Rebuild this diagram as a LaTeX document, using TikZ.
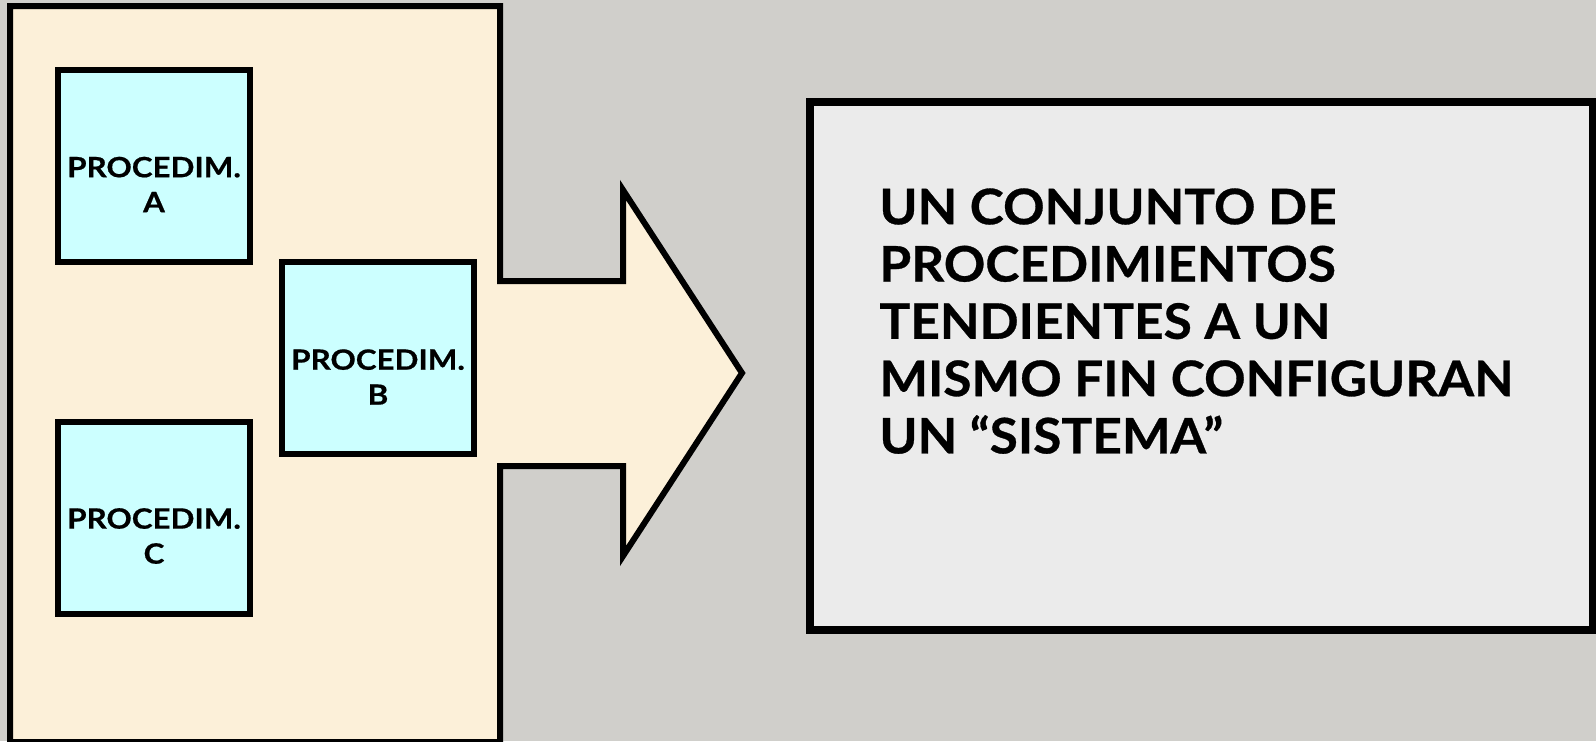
\documentclass[tikz,border=0pt]{standalone}
\usepackage{fontspec}
\setmainfont{Lato}[FakeStretch=1.05, BoldFeatures={FakeBold=0.6}]
\newfontfamily\boxfont{Lato}[FakeStretch=1.12, BoldFeatures={FakeBold=0.6}]
\usepackage{tikz}
\usetikzlibrary{positioning,backgrounds}
\definecolor{slidegray}{HTML}{D0CFCB}
\definecolor{paper}{HTML}{FCF0D9}
\definecolor{cyanbox}{HTML}{CCFFFF}
\definecolor{granite}{HTML}{EBEBEB}
\newcommand{\frameline}{3pt}
\newcommand{\boxside}{96pt}
\tikzset{
  procbox/.style={draw, line width=\frameline, fill=cyanbox, minimum width=\boxside, minimum height=\boxside, inner sep=0pt},
  proctext/.style={font=\boxfont\bfseries\fontsize{14}{17.5}\selectfont, align=center, inner sep=0pt},
  sistext/.style={font=\bfseries\fontsize{24.5}{28.65}\selectfont, align=left, inner sep=0pt}
}

\begin{document}
\begin{tikzpicture}[x=0.5pt, y=-0.5pt, line join=miter]
\fill[slidegray] (0,0) rectangle (1596,741);
\useasboundingbox (0,0) rectangle (1596,741);
%panel with arrow
\draw[fill=paper, line width=\frameline] (10,6) -- (500,6) -- (500,281) -- (623,281) -- (623,190) -- (742,373) -- (623,556) -- (623,466) -- (500,466) -- (500,742) -- (10,742) -- cycle;
%A
\node[procbox] (A) at (154,166) {};
\node[proctext] (At) at (154,184.5) {PROCEDIM.\\A};
%B
\node[procbox] (B) at (378,358) {};
\node[proctext] (Bt) at (378,377) {PROCEDIM.\\B};
%C
\node[procbox] (C) at (154,518) {};
\node[proctext] (Ct) at (154,536) {PROCEDIM.\\C};
%sistema
\node[draw, line width=4pt, fill=granite, minimum width=391.5pt, minimum height=264pt, inner sep=0pt] (S) at (1201.5,366) {};
\node[sistext, anchor=north west] (St) at (879,188) {UN CONJUNTO DE\\PROCEDIMIENTOS\\TENDIENTES A UN\\MISMO FIN CONFIGURAN\\UN “SISTEMA”};
\end{tikzpicture}
\end{document}
